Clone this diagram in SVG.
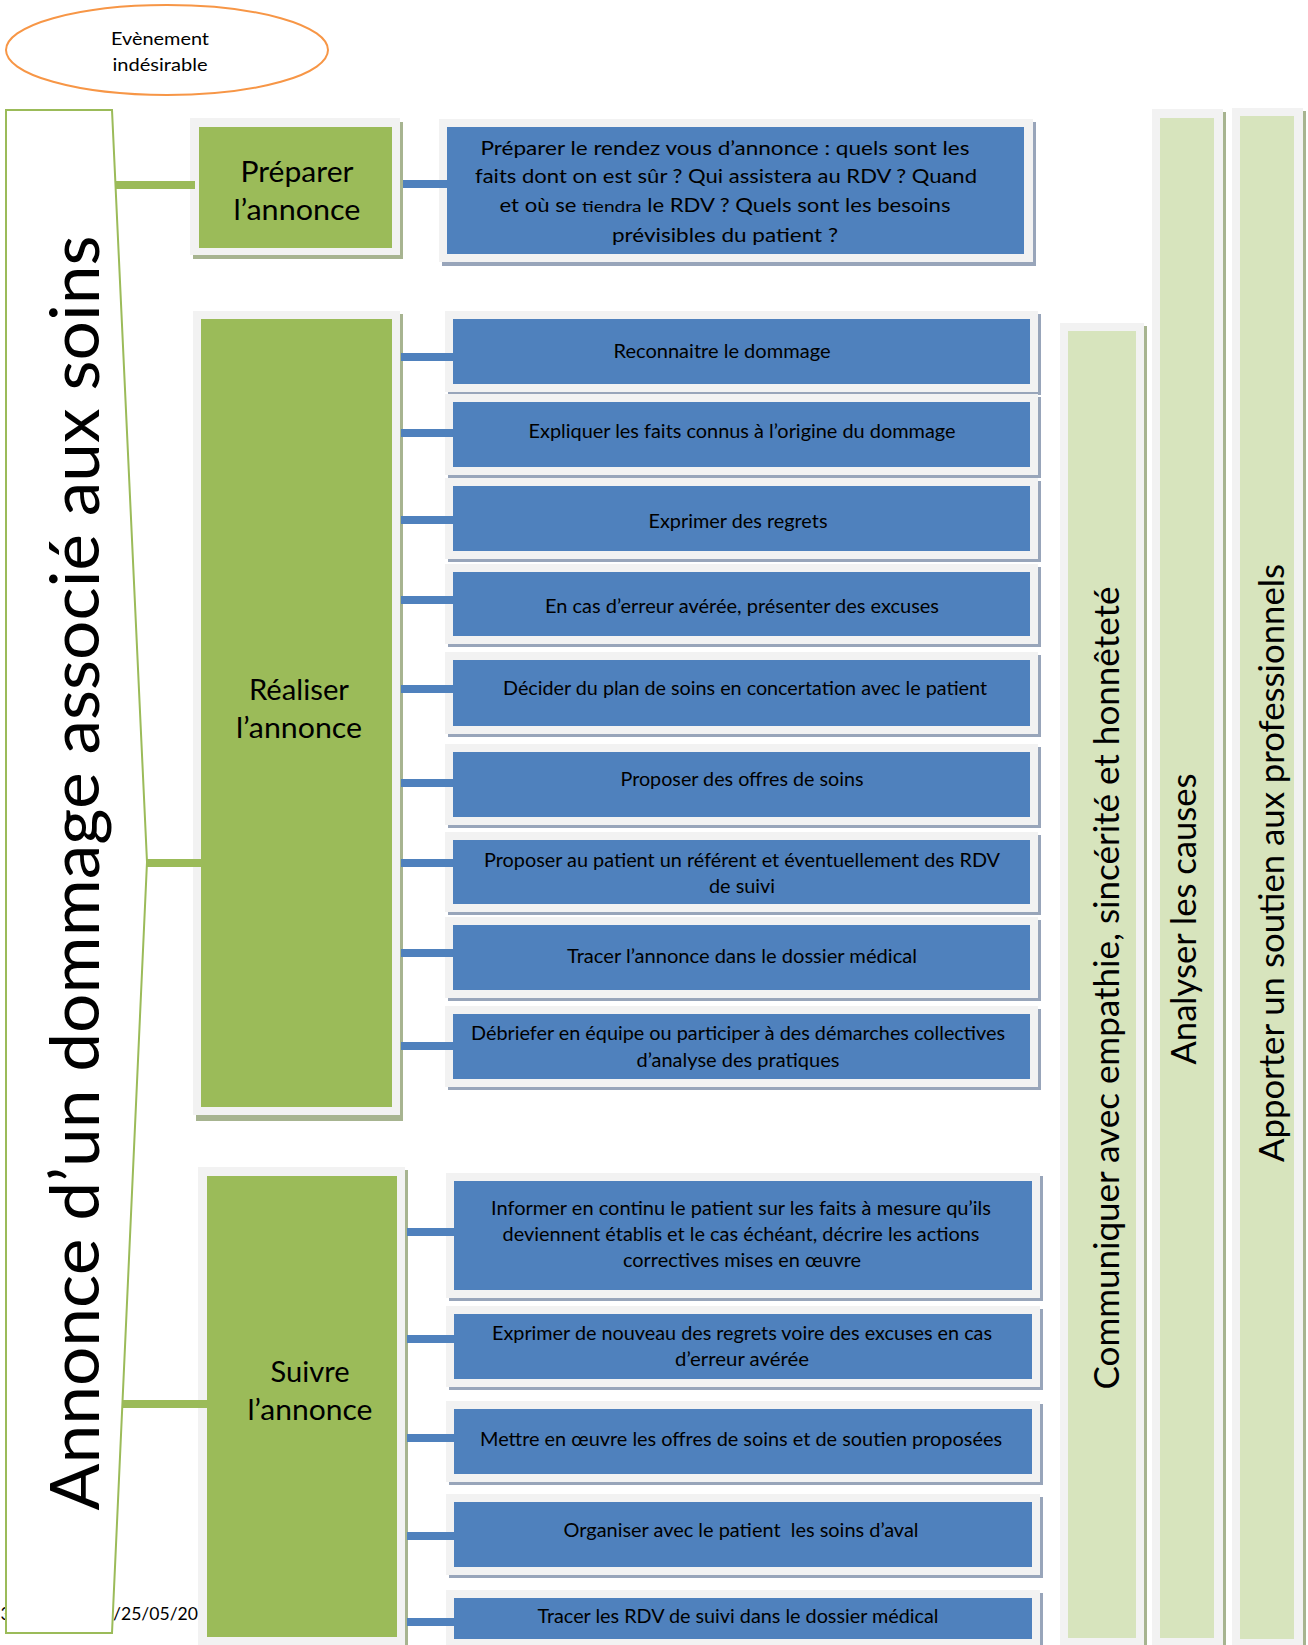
<svg xmlns="http://www.w3.org/2000/svg" width="1308" height="1645" viewBox="0 0 1308 1645">
<style>
.frame{fill:#F2F2F2}
.bsh{fill:#98A5BA}
.gsh{fill:#A7B490}
.blue{fill:#4F81BD}
.green{fill:#9BBB59}
.lg{fill:#D7E4BD}
text{font-family:Lato,"Open Sans","Liberation Sans",sans-serif;fill:#000}
.bt{font-size:18.5px;text-anchor:middle}
.gt{font-size:29px;text-anchor:middle}
.vt{font-size:35px;text-anchor:middle}
.cb{stroke:#4F81BD;stroke-width:8}
.cg{stroke:#9BBB59;stroke-width:8}
</style>
<rect width="1308" height="1645" fill="#FFFFFF"/>

<g id="date">
<text x="0.5" y="1620" style="font-size:18px">3</text>
<text x="113" y="1620" style="font-size:18px" textLength="85" lengthAdjust="spacingAndGlyphs">/25/05/20</text>
</g>

<g id="evenement">
<ellipse cx="167" cy="50" rx="161" ry="45" fill="#FFFFFF" stroke="#F79646" stroke-width="2"/>
<text x="160" y="45" style="font-size:18px;text-anchor:middle" textLength="98" lengthAdjust="spacingAndGlyphs">Evènement</text>
<text x="160" y="71" style="font-size:18px;text-anchor:middle" textLength="95" lengthAdjust="spacingAndGlyphs">indésirable</text>
</g>

<g id="annonce">
<path d="M6,110 L112,110 L147,862 L112,1633 L6,1633 Z" fill="#FFFFFF" stroke="#9BBB59" stroke-width="2"/>
<text transform="translate(99,873) rotate(-90)" x="0" y="0" style="font-size:68px;text-anchor:middle" textLength="1275" lengthAdjust="spacingAndGlyphs">Annonce d’un dommage associé aux soins</text>
</g>

<g id="col-communiquer">
<rect class="gsh" x="1063" y="326" width="84" height="1322"/>
<rect class="frame" x="1060" y="323" width="84" height="1322"/>
<rect class="lg" x="1068" y="331" width="68" height="1307"/>
<text class="vt" transform="translate(1119,988) rotate(-90)" textLength="803" lengthAdjust="spacingAndGlyphs">Communiquer avec empathie, sincérité et honnêteté</text>
</g>
<g id="col-analyser">
<rect class="gsh" x="1155" y="112" width="71" height="1536"/>
<rect class="frame" x="1152" y="109" width="71" height="1536"/>
<rect class="lg" x="1160" y="118" width="54" height="1520"/>
<text class="vt" transform="translate(1196,919) rotate(-90)" textLength="291" lengthAdjust="spacingAndGlyphs">Analyser les causes</text>
</g>
<g id="col-apporter">
<rect class="gsh" x="1235" y="111" width="71" height="1537"/>
<rect class="frame" x="1232" y="108" width="71" height="1537"/>
<rect class="lg" x="1240" y="116" width="54" height="1523"/>
<text class="vt" transform="translate(1284,863) rotate(-90)" textLength="598" lengthAdjust="spacingAndGlyphs">Apporter un soutien aux professionnels</text>
</g>

<g id="preparer">
<rect class="gsh" x="193" y="122" width="210" height="137"/>
<rect class="frame" x="190" y="118" width="210" height="137"/>
<rect class="green" x="199" y="127" width="193" height="121"/>
<text class="gt" x="297" y="182" textLength="113" lengthAdjust="spacingAndGlyphs">Préparer</text>
<text class="gt" x="297" y="220" textLength="127" lengthAdjust="spacingAndGlyphs">l’annonce</text>
</g>

<g id="preparer-detail">
<rect class="bsh" x="442" y="122" width="594" height="144"/>
<rect class="frame" x="439" y="119" width="594" height="143"/>
<rect class="blue" x="447" y="127" width="577" height="127"/>
<text class="bt" x="725" y="155" textLength="489" lengthAdjust="spacingAndGlyphs">Préparer le rendez vous d’annonce : quels sont les</text>
<text class="bt" x="726" y="183" textLength="502" lengthAdjust="spacingAndGlyphs">faits dont on est sûr ? Qui assistera au RDV ? Quand</text>
<text class="bt" x="725" y="212" textLength="451" lengthAdjust="spacingAndGlyphs">et où se <tspan style="font-size:16px">tiendra</tspan> le RDV ? Quels sont les besoins</text>
<text class="bt" x="725" y="242" textLength="226" lengthAdjust="spacingAndGlyphs">prévisibles du patient ?</text>
</g>

<g id="realiser">
<rect class="gsh" x="196" y="314" width="207" height="807"/>
<rect class="frame" x="193" y="311" width="207" height="804"/>
<rect class="green" x="201" y="319" width="191" height="788"/>
<text class="gt" x="299" y="700" textLength="100" lengthAdjust="spacingAndGlyphs">Réaliser</text>
<text class="gt" x="299" y="738" textLength="126" lengthAdjust="spacingAndGlyphs">l’annonce</text>
</g>

<g id="r1">
<rect class="bsh" x="448" y="314" width="593" height="81"/>
<rect class="frame" x="445" y="311" width="593" height="81"/>
<rect class="blue" x="453" y="319" width="577" height="65"/>
<text class="bt" x="722" y="358" textLength="217" lengthAdjust="spacingAndGlyphs">Reconnaitre le dommage</text>
</g>
<g id="r2">
<rect class="bsh" x="448" y="397" width="593" height="81"/>
<rect class="frame" x="445" y="394" width="593" height="81"/>
<rect class="blue" x="453" y="402" width="577" height="65"/>
<text class="bt" x="742" y="438" textLength="427" lengthAdjust="spacingAndGlyphs">Expliquer les faits connus à l’origine du dommage</text>
</g>
<g id="r3">
<rect class="bsh" x="448" y="481" width="593" height="81"/>
<rect class="frame" x="445" y="478" width="593" height="81"/>
<rect class="blue" x="453" y="486" width="577" height="65"/>
<text class="bt" x="738" y="528" textLength="179" lengthAdjust="spacingAndGlyphs">Exprimer des regrets</text>
</g>
<g id="r4">
<rect class="bsh" x="448" y="567" width="593" height="80"/>
<rect class="frame" x="445" y="564" width="593" height="80"/>
<rect class="blue" x="453" y="572" width="577" height="64"/>
<text class="bt" x="742" y="613" textLength="394" lengthAdjust="spacingAndGlyphs">En cas d’erreur avérée, présenter des excuses</text>
</g>
<g id="r5">
<rect class="bsh" x="448" y="655" width="593" height="82"/>
<rect class="frame" x="445" y="652" width="593" height="82"/>
<rect class="blue" x="453" y="660" width="577" height="66"/>
<text class="bt" x="745" y="695" textLength="484" lengthAdjust="spacingAndGlyphs">Décider du plan de soins en concertation avec le patient</text>
</g>
<g id="r6">
<rect class="bsh" x="448" y="747" width="593" height="81"/>
<rect class="frame" x="445" y="744" width="593" height="81"/>
<rect class="blue" x="453" y="752" width="577" height="65"/>
<text class="bt" x="742" y="786" textLength="243" lengthAdjust="spacingAndGlyphs">Proposer des offres de soins</text>
</g>
<g id="r7">
<rect class="bsh" x="448" y="835" width="593" height="80"/>
<rect class="frame" x="445" y="832" width="593" height="80"/>
<rect class="blue" x="453" y="840" width="577" height="64"/>
<text class="bt" x="742" y="867" textLength="516" lengthAdjust="spacingAndGlyphs">Proposer au patient un référent et éventuellement des RDV</text>
<text class="bt" x="742" y="893" textLength="66" lengthAdjust="spacingAndGlyphs">de suivi</text>
</g>
<g id="r8">
<rect class="bsh" x="448" y="920" width="593" height="81"/>
<rect class="frame" x="445" y="917" width="593" height="81"/>
<rect class="blue" x="453" y="925" width="577" height="65"/>
<text class="bt" x="742" y="963" textLength="350" lengthAdjust="spacingAndGlyphs">Tracer l’annonce dans le dossier médical</text>
</g>
<g id="r9">
<rect class="bsh" x="448" y="1009" width="593" height="81"/>
<rect class="frame" x="445" y="1006" width="593" height="81"/>
<rect class="blue" x="453" y="1014" width="577" height="65"/>
<text class="bt" x="738" y="1040" textLength="534" lengthAdjust="spacingAndGlyphs">Débriefer en équipe ou participer à des démarches collectives</text>
<text class="bt" x="738" y="1067" textLength="203" lengthAdjust="spacingAndGlyphs">d’analyse des pratiques</text>
</g>

<g id="suivre">
<rect class="gsh" x="201" y="1170" width="207" height="478"/>
<rect class="frame" x="198" y="1167" width="207" height="478"/>
<rect class="green" x="207" y="1176" width="190" height="461"/>
<text class="gt" x="310" y="1382" textLength="79" lengthAdjust="spacingAndGlyphs">Suivre</text>
<text class="gt" x="310" y="1420" textLength="125" lengthAdjust="spacingAndGlyphs">l’annonce</text>
</g>

<g id="s1">
<rect class="bsh" x="449" y="1176" width="594" height="125"/>
<rect class="frame" x="446" y="1173" width="594" height="125"/>
<rect class="blue" x="454" y="1181" width="578" height="109"/>
<text class="bt" x="741" y="1215" textLength="500" lengthAdjust="spacingAndGlyphs">Informer en continu le patient sur les faits à mesure qu’ils</text>
<text class="bt" x="741" y="1241" textLength="477" lengthAdjust="spacingAndGlyphs">deviennent établis et le cas échéant, décrire les actions</text>
<text class="bt" x="742" y="1267" textLength="238" lengthAdjust="spacingAndGlyphs">correctives mises en œuvre</text>
</g>
<g id="s2">
<rect class="bsh" x="449" y="1309" width="594" height="81"/>
<rect class="frame" x="446" y="1306" width="594" height="81"/>
<rect class="blue" x="454" y="1314" width="578" height="65"/>
<text class="bt" x="742" y="1340" textLength="500" lengthAdjust="spacingAndGlyphs">Exprimer de nouveau des regrets voire des excuses en cas</text>
<text class="bt" x="742" y="1366" textLength="134" lengthAdjust="spacingAndGlyphs">d’erreur avérée</text>
</g>
<g id="s3">
<rect class="bsh" x="449" y="1404" width="594" height="81"/>
<rect class="frame" x="446" y="1401" width="594" height="81"/>
<rect class="blue" x="454" y="1409" width="578" height="65"/>
<text class="bt" x="741" y="1446" textLength="522" lengthAdjust="spacingAndGlyphs">Mettre en œuvre les offres de soins et de soutien proposées</text>
</g>
<g id="s4">
<rect class="bsh" x="449" y="1497" width="594" height="81"/>
<rect class="frame" x="446" y="1494" width="594" height="81"/>
<rect class="blue" x="454" y="1502" width="578" height="65"/>
<text class="bt" x="741" y="1537" xml:space="preserve" textLength="355" lengthAdjust="spacingAndGlyphs">Organiser avec le patient  les soins d’aval</text>
</g>
<g id="s5">
<rect class="bsh" x="449" y="1593" width="594" height="60"/>
<rect class="frame" x="446" y="1590" width="594" height="60"/>
<rect class="blue" x="454" y="1598" width="578" height="41"/>
<text class="bt" x="738" y="1623" textLength="401" lengthAdjust="spacingAndGlyphs">Tracer les RDV de suivi dans le dossier médical</text>
</g>

<g id="connectors">
<line class="cg" x1="115" y1="185" x2="195" y2="185"/>
<line class="cg" x1="147" y1="863" x2="201" y2="863"/>
<line class="cg" x1="123" y1="1404" x2="207" y2="1404"/>
<line class="cb" x1="403" y1="184" x2="447" y2="184"/>
<line class="cb" x1="401" y1="357" x2="453" y2="357"/>
<line class="cb" x1="401" y1="433" x2="453" y2="433"/>
<line class="cb" x1="401" y1="520" x2="453" y2="520"/>
<line class="cb" x1="401" y1="600" x2="453" y2="600"/>
<line class="cb" x1="401" y1="689" x2="453" y2="689"/>
<line class="cb" x1="401" y1="783" x2="453" y2="783"/>
<line class="cb" x1="401" y1="863" x2="453" y2="863"/>
<line class="cb" x1="401" y1="953" x2="453" y2="953"/>
<line class="cb" x1="401" y1="1046" x2="453" y2="1046"/>
<line class="cb" x1="407" y1="1232" x2="454" y2="1232"/>
<line class="cb" x1="407" y1="1339" x2="454" y2="1339"/>
<line class="cb" x1="407" y1="1438" x2="454" y2="1438"/>
<line class="cb" x1="407" y1="1536" x2="454" y2="1536"/>
<line class="cb" x1="407" y1="1622" x2="454" y2="1622"/>
</g>
</svg>
